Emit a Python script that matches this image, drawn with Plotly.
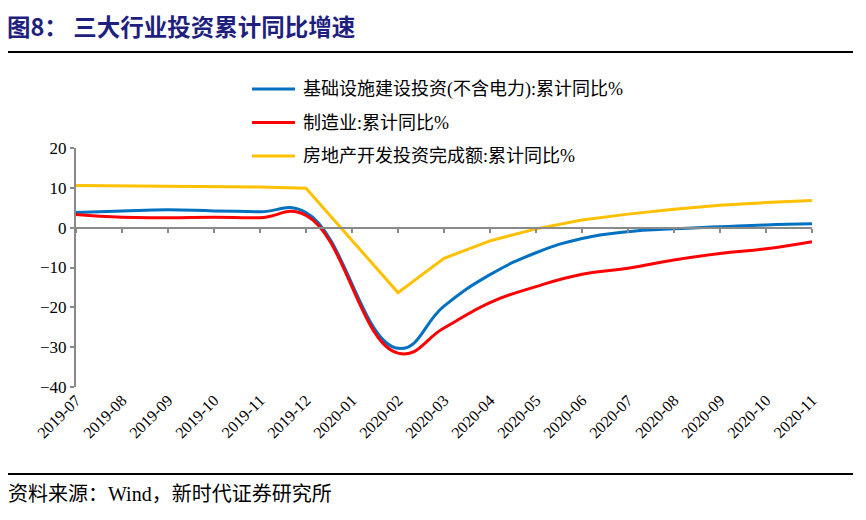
import plotly.graph_objects as go

categories = ["2019-07", "2019-08", "2019-09", "2019-10", "2019-11", "2019-12",
              "2020-01", "2020-02", "2020-03", "2020-04", "2020-05", "2020-06",
              "2020-07", "2020-08", "2020-09", "2020-10", "2020-11"]
infra = [3.8, 4.2, 4.5, 4.2, 4.0, 3.8, None, -30.3, -19.7, -11.8, -6.3, -2.7,
         -1.0, -0.3, 0.2, 0.7, 1.0]
manuf = [3.3, 2.6, 2.5, 2.6, 2.5, 3.1, None, -31.5, -25.2, -18.8, -14.8, -11.7,
         -10.2, -8.1, -6.5, -5.3, -3.5]
realty = [10.6, 10.5, 10.5, 10.3, 10.2, 9.9, None, -16.3, -7.7, -3.3, -0.3, 1.9,
          3.4, 4.6, 5.6, 6.3, 6.8]
names = ["基础设施建设投资(不含电力):累计同比%", "制造业:累计同比%", "房地产开发投资完成额:累计同比%"]
colors = ["#0070C0", "#FF0000", "#FFC000"]
y_ticks = [-40, -30, -20, -10, 0, 10, 20]

OFF = 8  # page body margin
W, H = 866 - OFF, 520 - OFF
# plot area in page coordinates
PX0, PX1, PY0, PY1 = 76, 812, 148, 387
L, R, T, B = PX0 - OFF, 866 - PX1, PY0 - OFF, 520 - PY1
pw, ph = W - L - R, H - T - B


def px(x):  # page x -> paper
    return (x - OFF - L) / pw


def py(y):  # page y -> paper
    return (H - B - (y - OFF)) / ph


xs = list(range(len(categories)))
fig = go.Figure()
series = [infra, manuf, realty]
shapes_kind = ["spline", "spline", "linear"]
for vals, name, col, shp in zip(series, names, colors, shapes_kind):
    fig.add_trace(go.Scatter(x=xs, y=vals, name=name, mode="lines",
                             connectgaps=True,
                             line=dict(color=col, width=3, shape=shp, smoothing=1.3),
                             showlegend=False))

serif = "Liberation Serif, Noto Sans CJK SC"
fig.update_layout(
    width=W, height=H,
    margin=dict(l=L, r=R, t=T, b=B),
    paper_bgcolor="white", plot_bgcolor="white",
    xaxis=dict(range=[0, len(categories) - 1], tickvals=xs, ticktext=categories,
               tickangle=-45, showline=False, ticks="", showgrid=False,
               zeroline=False, tickfont=dict(family=serif, size=16, color="black")),
    xaxis2=dict(range=[0, len(categories) - 1], tickvals=xs, overlaying="x",
                anchor="free", position=py(228), showticklabels=False,
                showline=True, linecolor="#898989", linewidth=2,
                ticks="outside", ticklen=4, tickwidth=2, tickcolor="#898989",
                showgrid=False, zeroline=False),
    yaxis=dict(range=[-40, 20], tickvals=y_ticks, showgrid=False, zeroline=False,
               showline=True, linecolor="#898989", linewidth=2,
               ticks="outside", ticklen=4, tickwidth=2, tickcolor="#898989",
               tickfont=dict(family=serif, size=17, color="black")),
)
# invisible trace to activate xaxis2
fig.add_trace(go.Scatter(x=[xs[0]], y=[0], xaxis="x2", mode="markers",
                         marker=dict(opacity=0), showlegend=False, hoverinfo="skip"))

shapes = []
annotations = []
# legend
leg_y = [89, 122.5, 156]
for name, col, ly in zip(names, colors, leg_y):
    shapes.append(dict(type="line", xref="paper", yref="paper",
                       x0=px(252), x1=px(295), y0=py(ly), y1=py(ly),
                       line=dict(color=col, width=3)))
    annotations.append(dict(xref="paper", yref="paper", x=px(301), y=py(ly),
                            text=name, showarrow=False, xanchor="left",
                            yanchor="middle",
                            font=dict(family=serif, size=18, color="black")))
# title and rules
shapes.append(dict(type="line", xref="paper", yref="paper", x0=px(8), x1=px(853),
                   y0=py(52), y1=py(52), line=dict(color="black", width=2)))
shapes.append(dict(type="line", xref="paper", yref="paper", x0=px(8), x1=px(853),
                   y0=py(474), y1=py(474), line=dict(color="black", width=2)))
annotations.append(dict(xref="paper", yref="paper", x=px(6), y=py(8),
                        text="<b>图8： 三大行业投资累计同比增速</b>", showarrow=False,
                        xanchor="left", yanchor="top", borderpad=0,
                        font=dict(family="Noto Sans CJK SC", size=23.5, color="#1F1F80")))
annotations.append(dict(xref="paper", yref="paper", x=px(6), y=py(494),
                        text="资料来源：Wind，新时代证券研究所", showarrow=False,
                        xanchor="left", yanchor="middle",
                        font=dict(family=serif, size=20, color="black")))
fig.update_layout(shapes=shapes, annotations=annotations)

fig.write_html("out.html")
